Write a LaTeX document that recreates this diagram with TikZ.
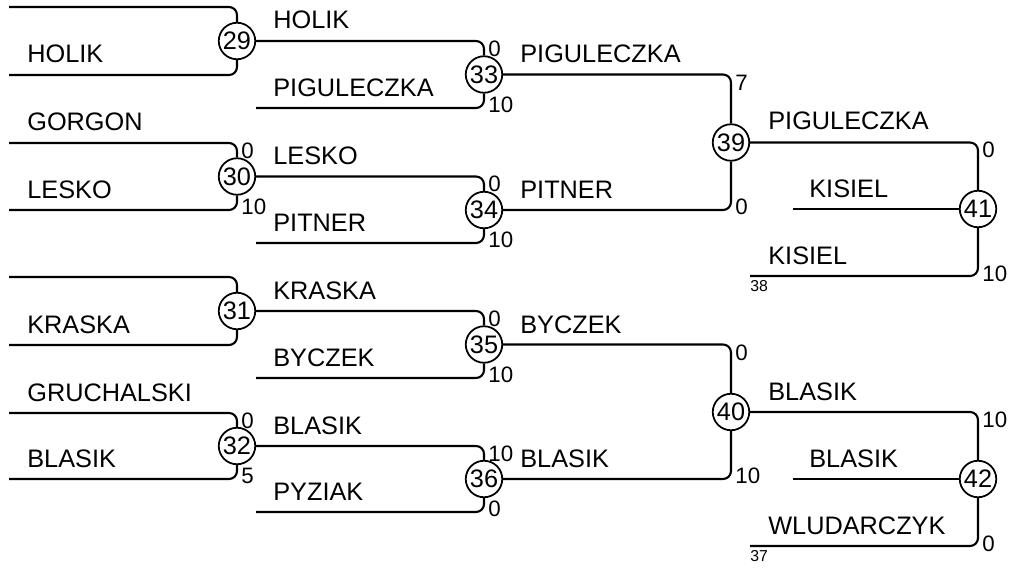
\documentclass[tikz,border=0pt]{standalone}
\usepackage{fontspec}
\setmainfont{Liberation Sans}

\tikzset{
	wire/.style={line width=1.2pt, rounded corners=0.16cm},
	game/.style={draw, circle, line width=1pt, minimum size=0.73cm, inner sep=0pt, font=\fontsize{14.4}{17}\selectfont},
	player/.style={anchor=base west, inner sep=0pt, font=\fontsize{14.4}{17}\selectfont},
	score/.style={anchor=west, inner sep=0pt, font=\fontsize{12.7}{15}\selectfont},
	seed/.style={anchor=north west, inner sep=0pt, font=\fontsize{9}{11}\selectfont}
}

\begin{document}
\begin{tikzpicture}[x=0.02cm, y=-0.02cm]
			%%%%% START %%%%%
			\useasboundingbox (0, 0) rectangle (1017, 571);
			
			%%%%% GAMES %%%%%
			\node[game] (m29) at (237, 41) {29};
			\node[game] (m30) at (237, 176.5) {30};
			\node[game] (m31) at (237, 311) {31};
			\node[game] (m32) at (237, 446) {32};
			
			\node[game] (m33) at (484, 74.5) {33};
			\node[game] (m34) at (484, 210) {34};
			\node[game] (m35) at (484, 344.5) {35};
			\node[game] (m36) at (484, 479) {36};
			
			\node[game] (m39) at (731, 142.5) {39};
			\node[game] (m40) at (731, 412) {40};
			
			\node[game] (m41) at (978, 209) {41};
			\node[game] (m42) at (978, 479) {42};
			
			%%%%% ENTRIES %%%%%
			\coordinate (e29a) at (9, 7);
			\coordinate (e29b) at (9, 75);
			\coordinate (e30a) at (9, 143);
			\coordinate (e30b) at (9, 210);
			\coordinate (e31a) at (9, 277);
			\coordinate (e31b) at (9, 345);
			\coordinate (e32a) at (9, 413);
			\coordinate (e32b) at (9, 479);
			
			\coordinate (e33b) at (256, 108);
			\coordinate (e34b) at (256, 243);
			\coordinate (e35b) at (256, 378);
			\coordinate (e36b) at (256, 512);
			
			\coordinate (e41b) at (793, 209);
			\coordinate (e41c) at (750, 276);
			\coordinate (e42b) at (793, 479);
			\coordinate (e42c) at (750, 546);
			
			%%%%% ROUND 1 %%%%%
			\draw[wire] (e29a) -| (m29);
			\draw[wire] (e29b) -| (m29);
			\draw[wire] (e30a) -| (m30);
			\draw[wire] (e30b) -| (m30);
			\draw[wire] (e31a) -| (m31);
			\draw[wire] (e31b) -| (m31);
			\draw[wire] (e32a) -| (m32);
			\draw[wire] (e32b) -| (m32);
			
			\node[player] (p29b) at (27, 63) {HOLIK};
			\node[player] (p30a) at (27, 131) {GORGON};
			\node[player] (p30b) at (27, 198) {LESKO};
			\node[player] (p31b) at (27, 333) {KRASKA};
			\node[player] (p32a) at (27, 401) {GRUCHALSKI};
			\node[player] (p32b) at (27, 467) {BLASIK};
			
			\node[score] (s30a) at (241, 151) {0};
			\node[score] (s30b) at (241, 207) {10};
			\node[score] (s32a) at (241, 421) {0};
			\node[score] (s32b) at (241, 476) {5};
			
			%%%%% ROUND 2 %%%%%
			\draw[wire] (m29) -| (m33);
			\draw[wire] (e33b) -| (m33);
			\draw[wire] (m30) -| (m34);
			\draw[wire] (e34b) -| (m34);
			\draw[wire] (m31) -| (m35);
			\draw[wire] (e35b) -| (m35);
			\draw[wire] (m32) -| (m36);
			\draw[wire] (e36b) -| (m36);
			
			\node[player] (p33a) at (273, 29) {HOLIK};
			\node[player] (p33b) at (273, 96) {PIGULECZKA};
			\node[player] (p34a) at (273, 164) {LESKO};
			\node[player] (p34b) at (273, 231) {PITNER};
			\node[player] (p35a) at (273, 299) {KRASKA};
			\node[player] (p35b) at (273, 366) {BYCZEK};
			\node[player] (p36a) at (273, 434) {BLASIK};
			\node[player] (p36b) at (273, 500) {PYZIAK};
			
			\node[score] (s33a) at (488, 49) {0};
			\node[score] (s33b) at (488, 105) {10};
			\node[score] (s34a) at (488, 184) {0};
			\node[score] (s34b) at (488, 240) {10};
			\node[score] (s35a) at (488, 319) {0};
			\node[score] (s35b) at (488, 375) {10};
			\node[score] (s36a) at (488, 454) {10};
			\node[score] (s36b) at (488, 509) {0};
			
			%%%%% ROUND 3 %%%%%
			\draw[wire] (m33) -| (m39);
			\draw[wire] (m34) -| (m39);
			\draw[wire] (m35) -| (m40);
			\draw[wire] (m36) -| (m40);
			
			\node[player] (p39a) at (520, 63) {PIGULECZKA};
			\node[player] (p39b) at (520, 198) {PITNER};
			\node[player] (p40a) at (520, 333) {BYCZEK};
			\node[player] (p40b) at (520, 467) {BLASIK};
			
			\node[score] (s39a) at (735, 83) {7};
			\node[score] (s39b) at (735, 207) {0};
			\node[score] (s40a) at (735, 353) {0};
			\node[score] (s40b) at (735, 476) {10};
			
			%%%%% ROUND 4 %%%%%
			\draw[wire] (m39) -| (m41);
			\draw[wire] (e41b) -- (m41);
			\draw[wire] (e41c) -| (m41);
			\draw[wire] (m40) -| (m42);
			\draw[wire] (e42b) -- (m42);
			\draw[wire] (e42c) -| (m42);
			
			\node[player] (p41a) at (768, 130) {PIGULECZKA};
			\node[player] (p41b) at (809, 197) {KISIEL};
			\node[player] (p41c) at (768, 264) {KISIEL};
			\node[player] (p42a) at (768, 400) {BLASIK};
			\node[player] (p42b) at (809, 467) {BLASIK};
			\node[player] (p42c) at (768, 534) {WLUDARCZYK};
			
			\node[seed] (d41c) at (750, 280) {38};
			\node[seed] (d42c) at (750, 550) {37};
			
			\node[score] (s41a) at (982, 150) {0};
			\node[score] (s41b) at (982, 274) {10};
			\node[score] (s42a) at (982, 420) {10};
			\node[score] (s42b) at (982, 544) {0};
			
			%%%%% END %%%%%
\end{tikzpicture}
\end{document}
